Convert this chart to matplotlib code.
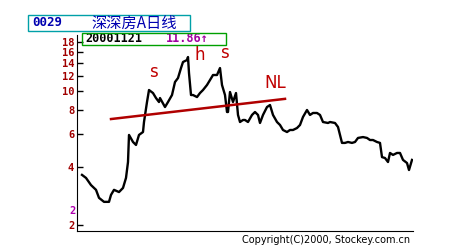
import matplotlib
matplotlib.use("Agg")
from matplotlib import pyplot as plt
from matplotlib.patches import Rectangle

# trading day position and closing price
day = [82, 86, 91, 96, 99, 104, 109, 111, 114, 119, 123, 126, 128, 129, 133, 136,
       139, 143, 144, 147, 149, 153, 156, 159, 160, 165, 168, 172, 175, 178, 181, 183,
       187, 188, 189, 191, 193, 197, 200, 203, 207, 210, 213, 217, 220, 222, 225, 227,
       228, 230, 233, 236, 238, 240, 243, 245, 248, 252, 255, 258, 260, 263, 267, 270,
       273, 277, 280, 283, 287, 290, 293, 297, 300, 303, 307, 310, 313, 317, 320, 323,
       328, 330, 335, 338, 340, 342, 345, 348, 352, 355, 358, 363, 367, 370, 373, 377,
       380, 382, 385, 388, 390, 393, 397, 400, 403, 407, 409, 412]
price = [3.65, 3.52, 3.23, 3.05, 2.77, 2.64, 2.64, 2.87, 3.05, 2.97, 3.12, 3.52, 4.26, 5.90, 5.42, 5.23,
         5.90, 6.11, 6.89, 8.76, 10.12, 9.76, 9.19, 8.76, 9.19, 8.25, 8.76, 9.53, 11.14, 11.69, 13.18, 14.17,
         14.51, 15.04, 12.41, 9.53, 9.53, 9.30, 9.76, 10.12, 10.75, 11.41, 12.12, 12.12, 13.18, 10.75, 9.53, 7.77,
         7.77, 9.88, 8.76, 9.76, 7.50, 6.89, 7.06, 7.06, 6.89, 7.50, 7.77, 7.50, 6.81, 7.50, 8.25, 8.45,
         7.50, 6.89, 6.65, 6.26, 6.11, 6.26, 6.26, 6.41, 6.65, 7.32, 7.96, 7.50, 7.68, 7.68, 7.50, 6.89,
         6.81, 6.89, 6.81, 6.49, 5.90, 5.36, 5.36, 5.42, 5.36, 5.42, 5.69, 5.75, 5.69, 5.55, 5.55, 5.42,
         5.36, 4.52, 4.47, 4.26, 4.75, 4.64, 4.75, 4.75, 4.37, 4.21, 3.87, 4.37]

# neckline
nl_day = [111, 285]
nl_price = [7.14, 9.10]

yticks = [2, 4, 6, 8, 10, 12, 14, 16, 18]

W, H = 450, 250


def fx(px):
    return px / W


def fy(py):
    return 1 - py / H


fig = plt.figure(figsize=(4.5, 2.5), dpi=100)
fig.patch.set_facecolor("white")
ax = fig.add_axes([fx(77), fy(231), fx(413) - fx(77), fy(35) - fy(231)])

ax.plot(day, price, color="black", lw=1.7)
ax.plot(nl_day, nl_price, color="#b00000", lw=1.8)

ax.set_yscale("log")
ax.set_ylim(1.86, 19.6)
ax.set_xlim(77, 413)
ax.set_yticks(yticks)
ax.set_yticklabels([str(t) for t in yticks])
ax.minorticks_off()
ax.set_xticks([])
ax.tick_params(axis="y", direction="in", length=4, width=1, pad=2,
               labelcolor="#a00000", labelsize=7.5)
for lab in ax.get_yticklabels():
    lab.set_fontfamily("DejaVu Sans Mono")
    lab.set_fontweight("bold")
for side in ("top", "right"):
    ax.spines[side].set_visible(False)

red = "#c00000"
ax.text(153, 12.6, "s", color=red, fontsize=12, ha="center", va="center")
ax.text(200, 15.5, "h", color=red, fontsize=12, ha="center", va="center")
ax.text(224, 15.8, "s", color=red, fontsize=12, ha="center", va="center")
ax.text(275, 11.0, "NL", color=red, fontsize=12, ha="center", va="center")

# title box
fig.patches.append(Rectangle((fx(28), fy(31)), fx(190) - fx(28), fy(15) - fy(31),
                             transform=fig.transFigure, fill=False,
                             edgecolor="#00a0a8", lw=1))
fig.text(fx(32), fy(23), "0029", color="#0000b0", fontsize=9, fontweight="bold",
         family="DejaVu Sans Mono", va="center")
fig.text(fx(91), fy(23), "深深房A日线", color="#0000b0", fontsize=11,
         family=["Noto Sans CJK SC", "DejaVu Sans"], va="center")

# date / price box
fig.patches.append(Rectangle((fx(82), fy(45)), fx(226) - fx(82), fy(33) - fy(45),
                             transform=fig.transFigure, fill=False,
                             edgecolor="#00a000", lw=1, zorder=5))
fig.text(fx(85), fy(39), "20001121", color="black", fontsize=8.5, fontweight="bold",
         family="DejaVu Sans Mono", va="center")
fig.text(fx(166), fy(39), "11.86↑", color="#a000a0", fontsize=8.5, fontweight="bold",
         family="DejaVu Sans Mono", va="center")

fig.text(fx(76), fy(211), "2", color="#b000b0", fontsize=7.5, fontweight="bold",
         family="DejaVu Sans Mono", ha="right", va="center")

fig.text(fx(410), fy(240), "Copyright(C)2000, Stockey.com.cn", color="black",
         fontsize=7, ha="right", va="center")

fig.savefig("out.png", dpi=100, facecolor="white")
